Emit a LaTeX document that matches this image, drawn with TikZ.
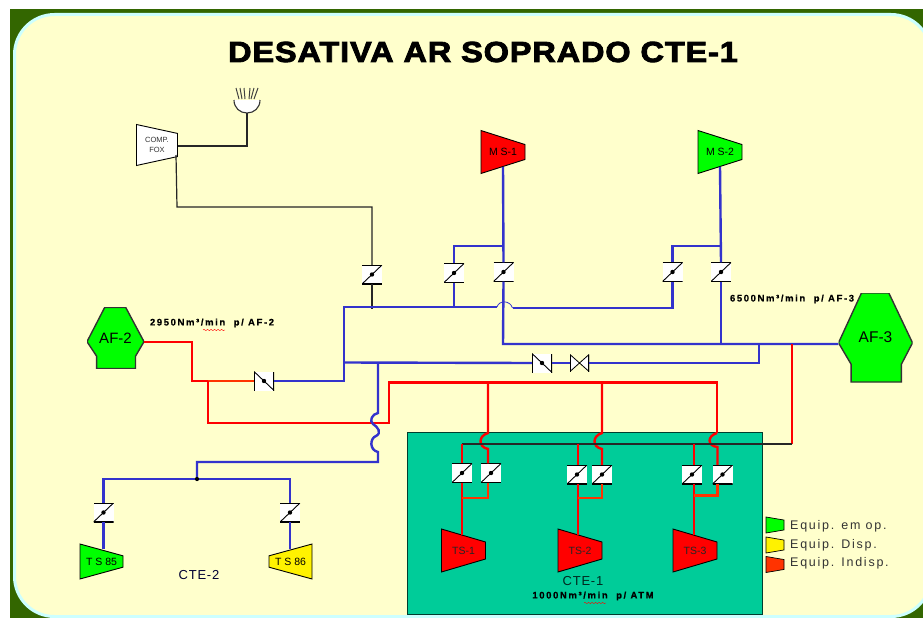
\documentclass[tikz,border=0pt]{standalone}
\usepackage{fontspec}
\setmainfont{Liberation Sans}
\newfontfamily\flowfont[LetterSpace=17,FakeBold=0.6]{Liberation Sans}
\newfontfamily\titlefont[FakeBold=3,FakeStretch=1.12,LetterSpace=3]{Liberation Sans}
\usepackage{xcolor}
\definecolor{frameGreen}{HTML}{336600}
\definecolor{panelYellow}{HTML}{FFFFCC}
\definecolor{panelCyan}{HTML}{CCFFFF}
\definecolor{plantGreen}{HTML}{00CC99}
\definecolor{pipeBlue}{HTML}{3333CC}
\definecolor{pipeOrange}{HTML}{FF3300}
\definecolor{opGreen}{HTML}{00FF00}
\usetikzlibrary{calc,shapes.geometric,decorations.pathmorphing}
\tikzset{
  blue pipe/.style={draw=pipeBlue,line width=2.4pt},
  red pipe/.style={draw=red,line width=2.4pt},
  thin pipe/.style={draw=black!85,line width=1.2pt},
  valve/.style={rectangle,fill=white,minimum width=20pt,minimum height=19pt,inner sep=0pt,
    path picture={
      \draw[line width=1.2pt] (path picture bounding box.north west) -- (path picture bounding box.north east);
      \draw[line width=1.2pt] (path picture bounding box.south west) -- (path picture bounding box.south east);
      \draw[line width=0.9pt] (path picture bounding box.south west) -- (path picture bounding box.north east);
      \fill[black] (path picture bounding box.center) circle (2.2pt);
    }},
  side valve/.style={rectangle,fill=white,minimum width=20pt,minimum height=19pt,inner sep=0pt,
    path picture={
      \draw[line width=1.2pt] (path picture bounding box.north west) -- (path picture bounding box.south west);
      \draw[line width=1.2pt] (path picture bounding box.north east) -- (path picture bounding box.south east);
      \draw[line width=0.9pt] (path picture bounding box.north west) -- (path picture bounding box.south east);
      \fill[black] (path picture bounding box.center) circle (2.2pt);
    }},
  gate/.style={rectangle,minimum width=19pt,minimum height=17pt,inner sep=0pt,fill=panelYellow,
    path picture={
      \filldraw[fill=white,line width=0.8pt] (path picture bounding box.north west) -- (path picture bounding box.south east)
        -- (path picture bounding box.north east) -- (path picture bounding box.south west) -- cycle;
      \draw[line width=1.4pt] (path picture bounding box.north west) -- (path picture bounding box.south west);
      \draw[line width=1.4pt] (path picture bounding box.north east) -- (path picture bounding box.south east);
    }},
  % wide end on the left, or on the right with border rotate 90
  turbine/.style={trapezium,draw=black,line width=0.9pt,shape border rotate=270,trapezium stretches=true,
    trapezium angle=76,minimum width=43pt,minimum height=44pt,inner sep=0pt,font=\fontsize{10.5}{11}\selectfont},
  fan/.style 2 args={rectangle,minimum width=#1pt,minimum height=#2pt,inner sep=0pt,fill=panelYellow,
    path picture={
      \filldraw[fill=opGreen,draw=black!80,line width=1.4pt]
        (path picture bounding box.center) ++(-0.19*#1,-0.5*#2) -- ++(0.37*#1,0) -- ++(0.32*#1,0.56*#2) -- ++(-0.15*#1,0.24*#2)
        -- ++(0,0.2*#2) -- ++(-0.68*#1,0) -- ++(0,-0.2*#2) -- ++(-0.17*#1,-0.24*#2) -- cycle;
    }},
  keybox/.style={trapezium,draw=black,line width=0.7pt,shape border rotate=270,trapezium stretches=true,
    trapezium angle=72,minimum width=16pt,minimum height=18pt,inner sep=0pt},
  keytext/.style={anchor=west,inner sep=1pt,text=black!80,font=\fontsize{12.5}{13}\selectfont\addfontfeature{LetterSpace=14}},
  flow/.style={font=\fontsize{9.5}{10}\selectfont\flowfont\bfseries},
  spell/.style={draw=red,line width=0.4pt,decorate,decoration={snake,amplitude=0.7pt,segment length=3.5pt}},
  plant name/.style={font=\fontsize{13}{14}\selectfont\addfontfeature{LetterSpace=6}}
}
\begin{document}
\begin{tikzpicture}[x=1pt,y=-1pt]
  \useasboundingbox (0,0) rectangle (923,618);
  % frame and panel
  \fill[frameGreen] (10,9) rectangle (923,618);
  \filldraw[fill=panelYellow,draw=panelCyan,line width=3pt,rounded corners=40pt] (14.5,14.5) rectangle (931,616.5);
  \node[font=\fontsize{29}{30}\selectfont\titlefont\bfseries] (title) at (483,52) {DESATIVA AR SOPRADO CTE-1};
  % plant box
  \node[draw=black!70!plantGreen,fill=plantGreen,line width=1pt,minimum width=355pt,minimum height=182pt,inner sep=0pt] (cte1box) at (584.5,523) {};
  % machines
  \node[turbine,fill=white,minimum width=41pt,minimum height=41pt,font=\fontsize{7.5}{8}\selectfont,text=black!80,align=center] (comp) at (157,145) {COMP.\\[2pt]FOX};
  \node[turbine,fill=red] (ms1) at (503,152) {M S-1};
  \node[turbine,fill=opGreen] (ms2) at (720,152) {M S-2};
  \node[turbine,fill=opGreen,minimum height=43pt,minimum width=35pt] (ts85) at (101.5,561.5) {T S 85};
  \node[turbine,fill=yellow,minimum height=43pt,minimum width=35pt,shape border rotate=90] (ts86) at (290.5,561.5) {T S 86};
  \node[turbine,fill=red,text=black!85] (ts1) at (463.5,550.5) {TS-1};
  \node[turbine,fill=red,text=black!85] (ts2) at (580,550.5) {TS-2};
  \node[turbine,fill=red,text=black!85] (ts3) at (695,550.5) {TS-3};
  \node[fan={57}{61},font=\fontsize{15}{16}\selectfont] (af2) at (115.5,338) {AF-2};
  \node[fan={74}{89},font=\fontsize{15.5}{16}\selectfont] (af3) at (875.5,337.5) {AF-3};
  % valves
  \node[valve] (vfox) at (372,274.5) {};
  \node[valve] (vms1a) at (454,273) {};
  \node[valve] (vms1b) at (503.5,272) {};
  \node[valve] (vms2a) at (672.5,272) {};
  \node[valve] (vms2b) at (721,272) {};
  \node[side valve] (vaf2) at (264,381) {};
  \node[side valve] (vcross) at (542,363) {};
  \node[gate] (gcross) at (579.5,363) {};
  \node[valve] (vts85) at (103.5,512.5) {};
  \node[valve] (vts86) at (290,512.5) {};
  \node[valve] (vts1a) at (462,473) {};
  \node[valve] (vts1b) at (491,473) {};
  \node[valve] (vts2a) at (577,474.5) {};
  \node[valve] (vts2b) at (602,474.5) {};
  \node[valve] (vts3a) at (692,474.5) {};
  \node[valve] (vts3b) at (722.5,474.5) {};
  % burner
  \coordinate (burner) at (247,113);
  \filldraw[fill=white,draw=black!80,line width=1.1pt] (234,100) .. controls (234,108) and (240,113) .. (burner) .. controls (254,113) and (260,108) .. (260,100);
  \foreach \xa/\xb in {236/239,240/242,244/245,250/249,254/251,258/254}
    \draw[black!75,line width=1pt] (\xa,88) -- (\xb,99);
  % fox air
  \draw[thin pipe] (burner) -- (247,146) -- (comp.east |- 0,146);
  \draw[thin pipe] (176,155) -- (177,207) -| (vfox.north);
  \draw[thin pipe] (vfox.south) -- (372,309);
  % blowers
  \draw[blue pipe] (ms1.south) -- (vms1b.north);
  \draw[blue pipe] (503,246) -| (vms1a.north);
  \draw[blue pipe] (ms2.south) -- (vms2b.north);
  \draw[blue pipe] (721,246) -| (vms2a.north);
  \draw[blue pipe] (vaf2.east) -- (344,381) -- (344,307) -- (497,307);
  \draw[draw=pipeBlue,line width=0.8pt] (497,307) .. controls (499,300) and (510,300) .. (512.5,308);
  \draw[blue pipe] (512.5,308) -| (vms2a.south);
  \draw[blue pipe] (vms1a.south) -- (vms1a.south |- 0,307);
  \draw[blue pipe] (vms1b.south) -- (503,344) -- (af3.west |- 0,344);
  \draw[blue pipe] (vms2b.south) -- (721,344);
  \draw[blue pipe] (344,362.5) -- (vcross.west);
  \draw[blue pipe] (vcross.east) -- (gcross.west);
  \draw[blue pipe] (gcross.east) -- (759,363) -- (759,344);
  % red lines
  \draw[red pipe] (af2.east |- 0,342) -- (192,342) -- (192,381) -- (208,381);
  \draw[draw=pipeOrange,line width=2.4pt] (208,381) -- (vaf2.west);
  \draw[red pipe] (208,381) -- (208,423) -- (389,423) -- (389,382.5) -- (717,382.5) -- (717,433);
  \draw[red pipe] (488,382.5) -- (488,433) .. controls (478,436) and (478,447) .. (488,449) -- ([xshift=-3pt]vts1b.north);
  \draw[red pipe] (602,382.5) -- (602,433) .. controls (592,436) and (592,447) .. (602,449) -- (vts2b.north);
  \draw[red pipe] (717,433) .. controls (707,436) and (707,446) .. (717.5,447) -- ([xshift=-5pt]vts3b.north);
  \draw[red pipe] (792,344) -- (792,444);
  \draw[thin pipe] (792,444) -- (462,444);
  \draw[red pipe] (462,444) -- (vts1a.north);
  \draw[red pipe] (578,444) -- ([xshift=1pt]vts2a.north);
  \draw[red pipe] (694,444) -- ([xshift=2pt]vts3a.north);
  \draw[red pipe] (vts1a.south) -- (vts1a.south |- ts1.north);
  \draw[red pipe] ([xshift=1pt]vts2a.south) -- ([xshift=1pt]vts2a.south |- ts2.north);
  \draw[red pipe] ([xshift=2pt]vts3a.south) -- ([xshift=2pt]vts3a.south |- ts3.north);
  \draw[draw=pipeOrange,line width=2.4pt] ([xshift=-3pt]vts1b.south) |- (462,498);
  \draw[draw=pipeOrange,line width=2.4pt] (vts2b.south) |- (578,498);
  \draw[draw=pipeOrange,line width=2.4pt] ([xshift=-5pt]vts3b.south) |- (694,495.5);
  % to CTE-2
  \draw[blue pipe] (378,362.5) -- (378,413) .. controls (372,414) and (369,421) .. (373,424)
    .. controls (378,427) and (382,433) .. (376,436) .. controls (370,438) and (369,450) .. (378,452) -- (378,462) -- (197,462) -- (197,479);
  \draw[blue pipe] (vts85.north) |- (vts86.north |- 0,479) -- (vts86.north);
  \node[circle,fill=black,inner sep=1.5pt] (tee) at (197,479) {};
  \draw[blue pipe] (vts85.south) -- (vts85.south |- ts85.north);
  \draw[blue pipe] (vts86.south) -- (vts86.south |- ts86.north);
  % labels
  \node[flow] (q2950) at (212,323) {2950Nm³/min\ \ p/\ AF-2};
  \draw[spell] (203,330) -- (225,330);
  \node[flow] (q6500) at (792,299) {6500Nm³/min\ \ p/\ AF-3};
  \node[flow] (q1000) at (593,596) {1000Nm³/min\ \ p/\ ATM};
  \draw[spell] (584,603) -- (606,603);
  \node[plant name,text=black!80!blue] (cte2) at (199,575) {CTE-2};
  \node[plant name,text=black!80!plantGreen] (cte1) at (583,581) {CTE-1};
  % legend
  \node[keybox,fill=opGreen] (kop) at (775,525) {\phantom{x}};
  \node[keybox,fill=yellow] (kdisp) at (775,545) {\phantom{x}};
  \node[keybox,fill=pipeOrange] (kind) at (775,564.5) {\phantom{x}};
  \node[keytext] (top) at (789,526) {Equip. em op.};
  \node[keytext] (tdisp) at (789,545) {Equip. Disp.};
  \node[keytext] (tind) at (789,563) {Equip. Indisp.};
\end{tikzpicture}
\end{document}
